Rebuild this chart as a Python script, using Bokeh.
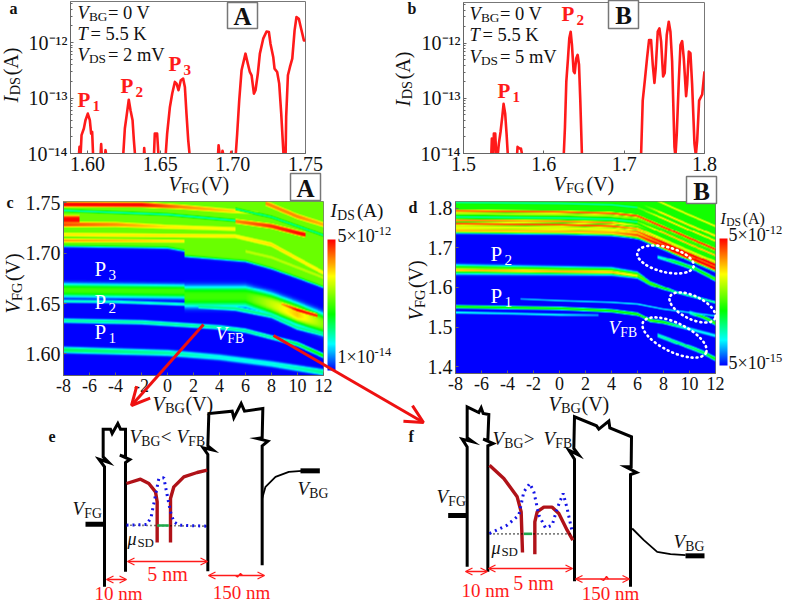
import numpy as np
from math import pi
from bokeh.plotting import figure
from bokeh.layouts import column
from bokeh.embed import file_html
from bokeh.resources import INLINE
from bokeh.core.properties import value
from bokeh.models import (Arrow, OpenHead, ColorBar, LogColorMapper, FixedTicker, NumeralTickFormatter,
                          CustomJSTickFormatter, Range1d)

SERIF = "Liberation Serif"
# ---------- curves of panels a and b: V_FG (V), log10(I_DS / A)
a_vfg = [1.5940,1.5945,1.5952,1.5959,1.5975,1.5986,1.6002,1.6016,1.6025,1.6032,1.6039,1.6089,1.6094,1.6099,1.6119,1.6124,1.6131,
         1.6245,1.6257,1.6268,1.6284,1.6296,1.6310,1.6319,1.6328,1.6388,1.6390,1.6395,1.6457,1.6463,1.6479,1.6489,
         1.6537,1.6548,1.6567,1.6583,1.6601,1.6613,1.6626,1.6642,1.6658,1.6670,1.6681,1.6693,1.6704,
         1.6897,1.6902,1.6911,1.6924,1.6929,1.6938,1.6984,1.6989,1.6996,
         1.7019,1.7030,1.7044,1.7060,1.7087,1.7103,1.7117,1.7129,1.7145,1.7156,1.7172,1.7186,1.7209,1.7232,1.7248,1.7259,1.7278,1.7287,
         1.7305,1.7319,1.7333,1.7347,1.7351,1.7363,1.7367,1.7379,1.7393,1.7409,1.7425,1.7438,1.7454,1.7470,1.7489,1.7500]
a_log = [-14.06,-13.88,-14.06,-13.67,-13.55,-13.40,-13.28,-13.40,-13.64,-13.61,-14.06,-14.06,-13.83,-14.06,-14.06,-13.94,-14.06,
         -14.06,-13.55,-13.34,-13.03,-13.22,-13.40,-13.76,-14.06,-14.06,-13.90,-14.06,-14.06,-13.64,-13.64,-14.06,
         -14.06,-13.64,-13.16,-12.92,-12.71,-12.74,-12.86,-12.68,-12.65,-12.80,-13.28,-13.76,-14.06,
         -14.06,-13.85,-14.06,-14.06,-13.95,-14.06,-14.06,-13.97,-14.06,
         -14.06,-13.64,-13.04,-12.50,-12.20,-12.38,-12.53,-12.59,-12.92,-12.86,-12.56,-12.20,-11.93,-11.80,-11.81,-12.02,-12.26,-12.47,
         -12.53,-12.74,-13.28,-13.94,-14.12,-14.06,-13.34,-12.59,-12.44,-12.29,-11.78,-11.54,-11.57,-11.75,-11.96,-11.96]
b_vfg = [1.5345,1.5353,1.5370,1.5378,1.5395,1.5407,1.5424,1.5440,1.5461,1.5482,1.5499,1.5519,1.5536,1.5553,
         1.5665,1.5673,1.5698,1.5715,1.5735,
         1.6247,1.6263,1.6280,1.6301,1.6317,1.6334,1.6350,1.6371,1.6384,1.6404,1.6421,1.6438,1.6454,1.6475,
         1.7210,1.7231,1.7256,1.7285,1.7310,1.7335,1.7356,1.7377,1.7393,1.7418,1.7439,1.7460,1.7485,1.7505,1.7530,1.7555,1.7576,1.7597,
         1.7626,1.7638,1.7655,1.7680,1.7701,1.7722,1.7742,1.7771,1.7784,1.7805,1.7825,1.7846,1.7875,1.7892,1.7909,1.7933,1.7971,1.8000]
b_log = [-14.06,-13.73,-14.06,-13.64,-13.64,-14.00,-14.06,-13.82,-13.61,-13.34,-13.10,-13.28,-13.64,-14.06,
         -14.06,-13.88,-13.91,-13.91,-14.06,
         -14.06,-13.52,-12.69,-12.27,-11.91,-11.79,-12.03,-12.51,-12.54,-12.27,-12.21,-12.39,-13.04,-14.06,
         -14.06,-13.04,-12.69,-12.27,-11.94,-11.94,-12.39,-12.72,-12.45,-11.79,-11.73,-11.97,-12.60,-12.54,-11.85,-11.61,-11.79,-12.33,
         -13.88,-14.06,-13.64,-12.69,-12.03,-11.96,-12.27,-12.96,-12.75,-12.15,-12.18,-12.75,-13.82,-14.03,-13.76,-13.04,-12.93,-12.51]
x_ticks_a = [1.60, 1.65, 1.70, 1.75]
x_ticks_b = [1.5, 1.6, 1.7, 1.8]
bg_ticks = [-8, -6, -4, -2, 0, 2, 4, 6, 8, 10, 12]
fg_ticks_c = [1.60, 1.65, 1.70, 1.75]
fg_ticks_d = [1.4, 1.5, 1.6, 1.7, 1.8]

# ---------- panel c: read ridges (V_BG list, V_FG list, half-width V, level 0..1 on the colour scale)
c_edge_x = [-8, 0, 1.29, 1.31, 5.2, 6, 8, 10, 12]
c_edge_v = [1.7071, 1.7055, 1.7025, 1.6972, 1.6930, 1.6922, 1.6850, 1.6760, 1.6665]
c_edge_level = 0.55
c_bands = [
    ([-8,-2,1,5,7], [1.7484,1.7480,1.7460,1.7418,1.7400], 0.0038, [1,1,.85,.76,.62]),
    ([7.5,10,12], [1.7500,1.7365,1.7285], 0.0042, [.85,.85,.8]),
    ([-8,-6.75], [1.7335,1.7335], 0.0058, [1,1]),
    ([-8,-4,0,3,5.2], [1.7285,1.7285,1.7262,1.7250,1.7240], 0.0040, [.92,.84,.74,.72,.72]),
    ([-8,5.2], [1.7186,1.7170], 0.0036, [.74,.74]),
    ([-8,1.3], [1.7127,1.7120], 0.0030, [.82,.74]),
    ([5.2,8,10.3,10.6], [1.7318,1.7269,1.7193,1.7185], 0.0038, [.85,.95,1,1]),
    ([5.2,8,12], [1.7170,1.7087,1.6807], 0.0040, [.72,.75,.72]),
    ([6,8,12], [1.7020,1.6960,1.6760], 0.0034, [.64,.64,.64]),
    ([-8,1.3], [1.6632,1.6619], 0.0066, [.5,.5]),
    ([1.32,6,8,10,12], [1.6569,1.6569,1.6493,1.6394,1.6296], 0.0100, [.5,.5,.65,.78,.58]),
    ([8.8,10,11.5], [1.6493,1.6434,1.6378], 0.0028, [.8,1,.95]),
    ([-8,-4,1.3,2.4], [1.6520,1.6515,1.6490,1.6477], 0.0016, [.25,.25,.25,.25]),
    ([2.4,5.2,8,10,12], [1.6470,1.6450,1.6378,1.6262,1.6196], 0.0024, [.3,.3,.3,.3,.3]),
    ([-8,-2,2,4,6,8,10,12], [1.6328,1.6312,1.6279,1.6262,1.6229,1.6163,1.6097,1.5982], 0.0022, [.28,.28,.28,.28,.28,.28,.35,.45]),
    ([-8,0,4,8,12], [1.6038,1.6008,1.5965,1.5899,1.5817], 0.0030, [.35,.28,.22,.22,.3]),
]
c_dips = [
    ([-8,0,5.2], [1.7424,1.7384,1.7325], 0.0012, .25),
    ([5.2,8,12], [1.7440,1.7360,1.7180], 0.0012, .28),
]

# ---------- panel d
d_edge_x = [-8, 0, 4, 6, 8, 10, 12]
d_edge_v = [1.7412, 1.7370, 1.7328, 1.7219, 1.7051, 1.6799, 1.6438]
d_edge_level = 0.45
d_shift_x = [-8, 0, 4, 6, 8, 10, 12]
d_shift_v = [0, .0025, .0059, .0126, .0403, .0689, .0966]
d_stripe_base = [1.8521, 1.8395, 1.8269, 1.8143, 1.8059, 1.7933, 1.7866, 1.7782, 1.7698, 1.7614, 1.7530, 1.7446]
d_stripe_left = [0, 0, 0, .3, .45, .9, .65, .3, .85, .92, .7, .8]
d_stripe_right = [.7, .4, .75, .75, .4, .95, .5, .8, .3, .7, 1, 1]
d_stripe_half = [.0045, .0045, .0045, .0040, .0040, .0048, .0040, .0040, .0045, .0048, .0065, .0075]
d_bands = [
    ([-8,4,6,7,8,9,12], [1.6454,1.6404,1.6312,1.6102,1.5984,1.5875,1.5623], [.011,.009,.0075,.005,.0045,.003,.003], [.55,.55,.55,.5,.45,.3,.3]),
    ([-8,4,6], [1.6437,1.6387,1.6295], .0050, [.8,.8,.7]),
    ([7.5,9,10.5,12], [1.6774,1.6631,1.6463,1.6211], .0048, [.2,.4,.4,.5]),
    ([-8,0,4,6,7,8,10,12], [1.5514,1.5472,1.5413,1.5329,1.5161,1.5119,1.4951,1.4783], .0040, [.45,.45,.45,.45,.5,.45,.2,.2]),
    ([-3,0,4,6,8,12], [1.5707,1.5665,1.5623,1.5581,1.5455,1.5287], .0022, [.15,.18,.18,.2,.18,.18]),
    ([-8,-4,0,3], [1.5371,1.5346,1.5312,1.5304], .0030, [.22,.18,.2,.12]),
    ([7.5,9,11,12], [1.4800,1.4615,1.4363,1.4195], .0048, [.25,.32,.35,.45]),
    ([10,11,12], [1.5371,1.5262,1.5094], .0048, [.2,.45,.5]),
]
d_dip_base = [1.8143, 1.7782]

# ---------- colour scale
c_low, c_high = 1e-14, 5e-12
d_low, d_high = 5e-15, 5e-12
stops_pos = [0, .2, .43, .72, 1]
stops_rgb = [(0,0,255), (0,255,255), (0,255,0), (255,255,0), (255,0,0)]

# ---------- schematics, in the crop units used to read them
e_bar1_x = [222,222,205,235,218,218,240,245,262,270,285,285,268,298,285,285]
e_bar1_y = [595,235,212,222,205,122,122,135,105,122,122,205,200,213,222,550]
e_bar2_x = [532,532,518,548,532,535,605,610,632,642,697,695,680,712,695,695]
e_bar2_y = [548,198,178,185,172,75,68,88,45,68,60,148,150,158,172,530]
e_red1_x = [288,330,355,375,380,380]; e_red1_y = [285,272,285,310,340,462]
e_red2_x = [420,420,430,460,500,530]; e_red2_y = [462,330,295,265,252,245]
e_blue_x = [288,350,362,375,385,400,410,420,430,445,530]; e_blue_y = [410,408,385,320,270,268,320,370,400,410,413]
e_gate_x = [695,705,735,775,815]; e_gate_y = [330,295,265,250,247]
f_bar1_x = [170,170,155,187,170,170,205,212,218,235,232,218,248,232,232]
f_bar1_y = [535,175,152,160,148,55,72,58,75,78,155,152,165,172,550]
f_bar2_x = [492,492,475,505,490,492,558,565,595,598,663,662,645,678,660,660]
f_bar2_y = [578,212,185,200,180,85,112,122,98,118,145,235,235,252,258,595]
f_red1_x = [237,280,320,332,336]; f_red1_y = [230,270,325,370,492]
f_red2_x = [373,373,380,400,425,445,470,487]; f_red2_y = [497,400,370,356,356,375,425,455]
f_blue_x = [237,290,325,340,358,370,385,405,425,440,458,470,485]; f_blue_y = [435,410,380,310,285,310,380,418,410,360,315,360,430]
f_gate_x = [665,700,740,780,825]; f_gate_y = [420,455,490,497,500]


def palette():
    out = []
    for t in np.linspace(0, 1, 256):
        rgb = [int(round(np.interp(t, stops_pos, [c[i] for c in stops_rgb]))) for i in range(3)]
        out.append("#%02x%02x%02x" % tuple(rgb))
    return out


def raster(xs, ys, bands, edge_x, edge_v, edge_level):
    X, Y = np.meshgrid(xs, ys)
    val = edge_level * 0.5 * (1 + np.tanh((Y - np.interp(X, edge_x, edge_v)) / 0.0012))
    for bx, bv, half, lev in bands:
        cen = np.interp(X, bx, bv)
        h = np.interp(X, bx, half) if isinstance(half, list) else half
        l = np.interp(X, bx, lev)
        prof = np.exp(-(np.abs(Y - cen) / h) ** 3)
        prof[(X < bx[0]) | (X > bx[-1])] = 0
        val = np.maximum(val, l * prof)
    return val


def apply_dips(val, xs, ys, dips):
    X, Y = np.meshgrid(xs, ys)
    for bx, bv, half, lev in dips:
        prof = np.exp(-(np.abs(Y - np.interp(X, bx, bv)) / half) ** 2)
        prof[(X < bx[0]) | (X > bx[-1])] = 0
        val = val * (1 - prof) + np.minimum(val, lev) * prof
    return val


def style_axes(p, size):
    for ax in (p.xaxis[0], p.yaxis[0]):
        ax.axis_line_color = "#666666"
        ax.major_tick_line_color = "#666666"
        ax.minor_tick_line_color = "#666666"
        ax.major_tick_in = 3; ax.major_tick_out = 0
        ax.minor_tick_in = 2; ax.minor_tick_out = 0
        ax.major_label_text_font = SERIF
        ax.major_label_text_color = "#111111"
        ax.major_label_standoff = 3
    p.grid.visible = False
    p.outline_line_color = "#777777"
    p.xaxis.major_label_text_font_size = size
    p.yaxis.major_label_text_font_size = "20px"
    p.frame_align = False


sup_js = """const e=Math.round(Math.log10(tick));const m={'-':'\u207b','1':'\u00b9','2':'\u00b2','3':'\u00b3','4':'\u2074'};
return '10'+String(e).split('').map(c=>m[c]).join('');"""


def line_panel(vfg, logi, xr, ticks, fmt, L, w, top, h, left, mtop, R=25):
    p = figure(width=L + w + R, height=top + h + 30, x_range=xr,
               y_range=Range1d(1e-14, 10 ** -11.26), y_axis_type="log",
               output_backend="svg", toolbar_location=None, tools="",
               min_border_left=L, min_border_right=R, min_border_top=top, min_border_bottom=30,
               margin=(mtop, 0, 0, left))
    p.line(vfg, [10.0 ** v for v in logi], line_color="#ff1a1a", line_width=2.6, line_join="round")
    p.xaxis.ticker = FixedTicker(ticks=ticks)
    p.xaxis.formatter = NumeralTickFormatter(format=fmt)
    p.yaxis.formatter = CustomJSTickFormatter(code=sup_js)
    style_axes(p, "20px")
    return p


pa = line_panel(a_vfg, a_log, (1.5883, 1.75), x_ticks_a, "0.00", 70, 235, 1, 152, 0, 0)
pb = line_panel(b_vfg, b_log, (1.5, 1.8), x_ticks_b, "0.0", 73, 241, 2, 151, 390, -183, R=40)


def map_panel(bands_val, xs, ys, yr, low, high, ticks, fmt, left, mtop, h, cb_h, cb_y):
    mapper = LogColorMapper(palette=palette(), low=low, high=high)
    p = figure(width=63 + 260 + 70, height=15 + h + 30, x_range=(-8, 12), y_range=yr,
               output_backend="svg", toolbar_location=None, tools="",
               min_border_left=63, min_border_right=70, min_border_top=15, min_border_bottom=30,
               margin=(mtop, 0, 0, left))
    z = 10 ** (np.log10(low) + bands_val * (np.log10(high) - np.log10(low)))
    p.image(image=[z], x=-8, y=ys[0], dw=20, dh=ys[-1] - ys[0], color_mapper=mapper)
    p.xaxis.ticker = FixedTicker(ticks=bg_ticks)
    p.xaxis.formatter = CustomJSTickFormatter(code="return String(tick);")
    p.yaxis.ticker = FixedTicker(ticks=ticks)
    p.yaxis.formatter = NumeralTickFormatter(format=fmt)
    style_axes(p, "18px")
    cb = ColorBar(color_mapper=mapper, width=8, height=cb_h, location=(4, cb_y), padding=0, margin=0,
                  ticker=FixedTicker(ticks=[]), minor_tick_line_color=None,
                  major_label_text_font_size="0px", major_tick_line_color=None, bar_line_color=None,
                  background_fill_alpha=0, border_line_color=None, label_standoff=0)
    p.add_layout(cb, "right")
    return p


xs = np.linspace(-8, 12, 400)
ys_c = np.linspace(1.5785, 1.7513, 350)
val_c = raster(xs, ys_c, c_bands, c_edge_x, c_edge_v, c_edge_level)
val_c = apply_dips(val_c, xs, ys_c, c_dips)
pc = map_panel(val_c, xs, ys_c, (1.5785, 1.7513), c_low, c_high, fg_ticks_c, "0.00", 0, 3, 174, 131, 5)

ys_d = np.linspace(1.383, 1.8166, 350)
d_all = list(d_bands)
for base, l0, l1, hw in zip(d_stripe_base, d_stripe_left, d_stripe_right, d_stripe_half):
    vs = [base - s for s in d_shift_v]
    d_all.append((d_shift_x, vs, hw, [l0, l0, l0, (l0 + l1) / 2, l1, l1, l1]))
val_d = raster(xs, ys_d, d_all, d_edge_x, d_edge_v, d_edge_level)
val_d = apply_dips(val_d, xs, ys_d,
                   [([-8, 0, 4, 6], [b - s for s in d_shift_v[:4]], .0020, .25) for b in d_dip_base])
pd = map_panel(val_d, xs, ys_d, (1.383, 1.8166), d_low, d_high, fg_ticks_d, "0.0", 392, -219, 172, 127, 8)

# ---------- overlay in page pixels
ov = figure(width=787, height=606, x_range=(0, 787), y_range=(606, 0), x_axis_location=None, y_axis_location=None,
            output_backend="svg", toolbar_location=None, tools="", min_border=0, margin=(-405, 0, 0, 0),
            background_fill_alpha=0, border_fill_alpha=0, outline_line_color=None)
ov.grid.visible = False
ov.frame_align = False


def T(x, y, s, size=18, color="#111111", style="normal", align="left", angle=0):
    ov.text([x], [y], text=[s], text_font=value(SERIF), text_font_size=f"{size}px", text_color=color,
            text_font_style=style, text_align=align, text_baseline="middle", angle=angle)


def VS(x, y, m, sub, rest="", size=18, color="#111111", style="italic", sub_style="normal"):
    T(x, y, m, size, color, style)
    w = {"V": .62, "I": .36, "P": .6, "\u03bc": .55}.get(m, .6) * size
    T(x + w, y + size * .24, sub, size * .72, color, sub_style)
    if rest:
        T(x + w + len(sub) * .52 * size * .72 + size * .28, y, rest, size, color)


def VSr(x, y, m, sub, rest="", size=20):
    T(x, y, m, size, style="italic", angle=pi / 2)
    w = (.36 if m == "I" else .62) * size
    T(x + size * .24, y - w, sub, size * .72, angle=pi / 2)
    T(x, y - w - len(sub) * .52 * size * .72 - size * .25, rest, size, angle=pi / 2)


def box(x0, y0, x1, y1, s):
    ov.quad(left=[x0], right=[x1], top=[y0], bottom=[y1], fill_color="white", line_color="#777777", line_width=1.5)
    T((x0 + x1) / 2, (y0 + y1) / 2 + 1, s, 25, style="bold", align="center")


def P(x, y, n, color, size, xs_off):
    style = "bold" if color != "white" else "normal"
    T(x, y, "P", size, color, style)
    T(x + xs_off, y + size * .3, n, size * .72, color, style)


# panel letters
for x, y, s in [(9, 10, "a"), (407, 10, "b"), (6, 204, "c"), (408, 209, "d"), (48, 438, "e"), (408, 438, "f")]:
    T(x, y, s, 16, style="bold")
for x0, y0, x1, y1, s in [(227, 4, 257, 30, "A"), (608, 2, 638, 30, "B"), (290, 175, 320, 202, "A"), (686, 178, 716, 205, "B")]:
    box(x0, y0, x1, y1, s)
# conditions
VS(77, 14, "V", "BG", "= 0 V", size=18.5); T(77, 35, "T", 18.5, style="italic"); T(90, 35, "= 5.5 K", 18.5); VS(77, 56, "V", "DS", "= 2 mV", size=18.5)
VS(469, 15, "V", "BG", "= 0 V", size=18.5); T(469, 36, "T", 18.5, style="italic"); T(482, 36, "= 5.5 K", 18.5); VS(469, 58, "V", "DS", "= 5 mV", size=18.5)
# peak labels
P(77, 101, "1", "#ff1a1a", 21, 15); P(120, 87, "2", "#ff1a1a", 21, 15); P(168, 65, "3", "#ff1a1a", 21, 15)
P(497, 92, "1", "#ff1a1a", 21, 15); P(561, 15, "2", "#ff1a1a", 21, 15)
P(94, 270, "3", "white", 21, 14); P(94, 303, "2", "white", 21, 14); P(94, 333, "1", "white", 21, 14)
P(490, 255, "2", "white", 21, 14); P(490, 297, "1", "white", 21, 14)
VS(215, 335, "V", "FB", size=19, color="white"); VS(608, 329, "V", "FB", size=19, color="white")
# axis titles
VS(168, 185, "V", "FG", "(V)", size=20); VS(553, 185, "V", "FG", "(V)", size=20)
VS(152, 405, "V", "BG", "(V)", size=20); VS(548, 405, "V", "BG", "(V)", size=20)
VSr(10, 104, "I", "DS", "(A)"); VSr(402, 108, "I", "DS", "(A)")
VSr(12, 315, "V", "FG", "(V)"); VSr(415, 322, "V", "FG", "(V)")
VS(330, 212, "I", "DS", "(A)", size=19); VS(720, 220, "I", "DS", "(A)", size=16)
# colour-bar labels
for x, y, s, n in [(337, 237, "5\u00d710", "-12"), (337, 358, "1\u00d710", "-14"), (728, 236, "5\u00d710", "-12"), (728, 364, "5\u00d710", "-15")]:
    T(x, y, s, 18); T(x + 37, y - 5, n, 12.5)
# ellipses
for cx, cy, w, h, ang in [(665, 261, 58, 25, 14), (692, 309, 50, 23, 26), (674, 339, 70, 29, 26)]:
    ov.ellipse([cx], [cy], width=w, height=h, angle=-ang * pi / 180, fill_alpha=0, line_color="white",
               line_width=2.6, line_dash="1 4", line_cap="round")


def schematic(ox, oy, bars, reds, blue, gate, base, green, vfg_stub, gate_stub):
    px = lambda v: [ox + a / 3 for a in v]
    py = lambda v: [oy + a / 3 for a in v]
    for bx, by in bars:
        ov.line(px(bx), py(by), line_color="black", line_width=3, line_join="miter")
    for rx, ry in reds:
        ov.line(px(rx), py(ry), line_color="#b01218", line_width=3.4, line_join="round")
    ov.line(px(base[0]), py(base[1]), line_color="black", line_width=1.6, line_dash="1 3")
    ov.line(px(blue[0]), py(blue[1]), line_color="#1414e6", line_width=3, line_dash="2 4")
    ov.line(px(green[0]), py(green[1]), line_color="#1fa84a", line_width=2.6)
    ov.line(px(gate[0]), py(gate[1]), line_color="black", line_width=1.8)
    ov.line(px(vfg_stub[0]), py(vfg_stub[1]), line_color="black", line_width=5)
    ov.line(px(gate_stub[0]), py(gate_stub[1]), line_color="black", line_width=5)


schematic(30, 390, [(e_bar1_x, e_bar1_y), (e_bar2_x, e_bar2_y)], [(e_red1_x, e_red1_y), (e_red2_x, e_red2_y)],
          (e_blue_x, e_blue_y), (e_gate_x, e_gate_y), ([288, 530], [410, 413]), ([380, 415], [411, 411]),
          ([165, 222], [407, 407]), ([810, 868], [247, 247]))
schematic(410, 390, [(f_bar1_x, f_bar1_y), (f_bar2_x, f_bar2_y)], [(f_red1_x, f_red1_y), (f_red2_x, f_red2_y)],
          (f_blue_x, f_blue_y), (f_gate_x, f_gate_y), ([237, 487], [436, 436]), ([340, 365], [436, 436]),
          ([113, 170], [381, 381]), ([825, 882], [502, 502]))


def dim(x0, y0, x1, y1):
    h0 = OpenHead(size=7, line_color="#ff1a1a", line_width=1.3)
    h1 = OpenHead(size=7, line_color="#ff1a1a", line_width=1.3)
    ov.add_layout(Arrow(start=h0, end=h1, x_start=x0, y_start=y0, x_end=x1, y_end=y1, line_color="#ff1a1a", line_width=1.3))


dim(127, 563, 207, 563); dim(106, 581, 126, 581); dim(208, 577, 264, 577)
dim(488, 570, 572, 570); dim(465, 573, 487, 573); dim(575, 580.5, 629, 580.5)
# small breaks on the 150 nm arrows
ov.line([236, 237, 240, 241], [577, 578, 575, 577], line_color="white", line_width=2.5)
ov.line([235, 237, 240, 242], [577, 578.5, 575, 577], line_color="#ff1a1a", line_width=1.3)
ov.line([601, 603, 606, 608], [580.5, 582, 578, 580.5], line_color="white", line_width=2.5)
ov.line([600, 603, 606, 608], [580.5, 582, 578, 580.5], line_color="#ff1a1a", line_width=1.3)
for x0, y0, x1, y1 in [(203, 326, 131, 407), (273, 337, 423, 424)]:
    ov.add_layout(Arrow(end=OpenHead(size=18, line_color="#ee1111", line_width=3), x_start=x0, y_start=y0, x_end=x1, y_end=y1,
                        line_color="#ee1111", line_width=3))

# schematic texts
VS(129, 438, "V", "BG", "<", size=19); VS(176, 438, "V", "FB", size=19)
VS(72, 510, "V", "FG", size=19); VS(297, 490, "V", "BG", size=19)
VS(127, 540, "\u03bc", "SD", size=18)
T(167, 575, "5 nm", 20, "#ff1a1a", align="center"); T(118, 595, "10 nm", 19, "#ff1a1a", align="center")
T(241, 594, "150 nm", 19, "#ff1a1a", align="center")
VS(492, 440, "V", "BG", ">", size=19); VS(543, 440, "V", "FB", size=19)
VS(436, 498, "V", "FG", size=19); VS(673, 543, "V", "BG", size=19)
VS(491, 549, "\u03bc", "SD", size=18)
T(533, 584, "5 nm", 20, "#ff1a1a", align="center"); T(485, 592, "10 nm", 19, "#ff1a1a", align="center")
T(610, 595, "150 nm", 19, "#ff1a1a", align="center")

root = column(pa, pb, pc, pd, ov)
open("out.html", "w").write(file_html(root, INLINE))
